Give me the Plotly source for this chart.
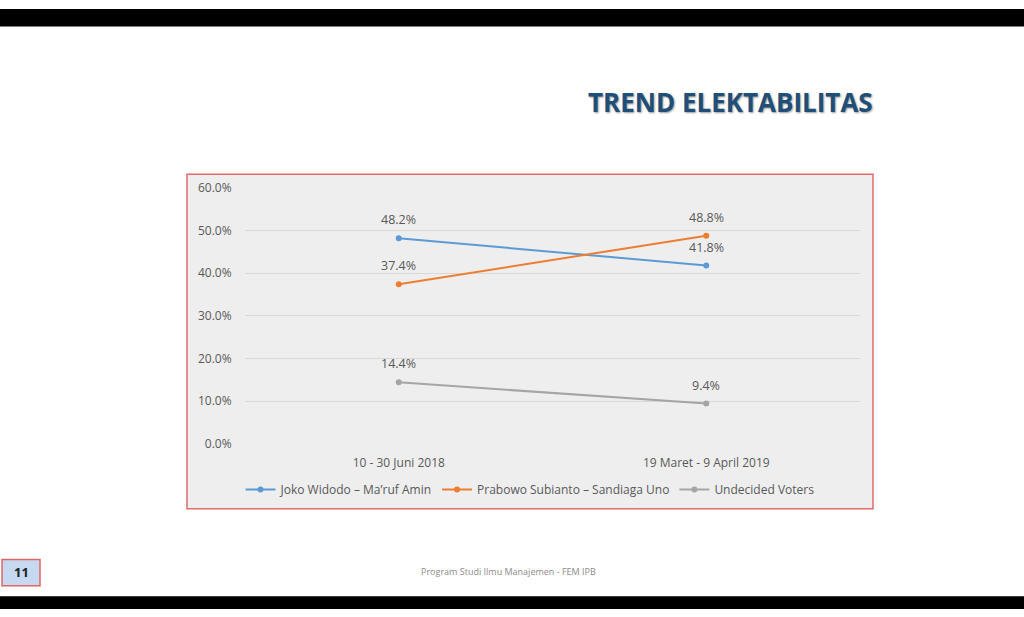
import plotly.graph_objects as go

W, H = 1024, 617

categories = ["10 - 30 Juni 2018", "19 Maret - 9 April 2019"]
jokowi = [0.482, 0.418]
prabowo = [0.374, 0.488]
undecided = [0.144, 0.094]
series_names = ["Joko Widodo – Ma’ruf Amin", "Prabowo Subianto – Sandiaga Uno", "Undecided Voters"]
y_ticks = [0, 0.1, 0.2, 0.3, 0.4, 0.5, 0.6]

colors = ["#5b9bd5", "#ed7d31", "#a5a5a5"]
label_font = dict(family="Open Sans", size=12, color="#595959")

def px(x):
    return x / W

def py(y):
    return 1 - y / H

fig = go.Figure()
annotations = []
for name, vals, col in zip(series_names, [jokowi, prabowo, undecided], colors):
    fig.add_trace(go.Scatter(
        x=categories, y=vals, name=name, mode="lines+markers",
        line=dict(color=col, width=2), marker=dict(color=col, size=6),
        cliponaxis=False,
    ))
    for c, v in zip(categories, vals):
        annotations.append(dict(
            x=c, y=v, xref="x", yref="y", text=f"{v*100:.1f}%", showarrow=False,
            yanchor="bottom", yshift=8, font=dict(family="Open Sans", size=12.5, color="#595959"),
        ))

shapes = [
    dict(type="rect", xref="paper", yref="paper", x0=0, x1=1, y0=py(0), y1=py(18),
         fillcolor="#000000", line=dict(width=0), layer="below"),
    dict(type="rect", xref="paper", yref="paper", x0=0, x1=1, y0=py(604), y1=0,
         fillcolor="#000000", line=dict(width=0), layer="below"),
    dict(type="rect", xref="paper", yref="paper", x0=px(187), x1=px(873), y0=py(514), y1=py(170),
         fillcolor="#eeeeee", line=dict(color="#e46a6c", width=1.5), layer="below"),
    dict(type="rect", xref="paper", yref="paper", x0=px(2), x1=px(40), y0=py(593), y1=py(566),
         fillcolor="#c6d9f1", line=dict(color="#e06666", width=1.5), layer="below"),
]

annotations += [
    dict(text="<b>TREND ELEKTABILITAS</b>", xref="paper", yref="paper", x=px(730), y=py(96),
         xanchor="center", yanchor="middle", showarrow=False,
         font=dict(family="Open Sans", size=26, color="#1f4e79", shadow="1px 1px 2px #9a9a9a")),
    dict(text="<b>11</b>", xref="paper", yref="paper", x=px(21), y=py(579),
         xanchor="center", yanchor="middle", showarrow=False,
         font=dict(family="Open Sans", size=13, color="#222222")),
    dict(text="Program Studi Ilmu Manajemen - FEM IPB", xref="paper", yref="paper", x=px(508), y=py(578),
         xanchor="center", yanchor="middle", showarrow=False,
         font=dict(family="Open Sans", size=9, color="#8c8c8c")),
]

fig.update_layout(
    width=W, height=H,
    margin=dict(l=0, r=0, t=0, b=0),
    paper_bgcolor="#ffffff", plot_bgcolor="rgba(0,0,0,0)",
    shapes=shapes, annotations=annotations,
    showlegend=True,
    legend=dict(orientation="h", x=px(530), y=py(494), xanchor="center", yanchor="middle",
                font=dict(family="Open Sans", size=12, color="#595959"), bgcolor="rgba(0,0,0,0)",
                itemwidth=30, tracegroupgap=0),
    xaxis=dict(domain=[px(245), px(860)], range=[-0.5, 1.5], showgrid=False, zeroline=False,
               showline=False, tickfont=label_font, ticks="outside", ticklen=8,
               tickcolor="rgba(0,0,0,0)", type="category"),
    yaxis=dict(domain=[py(447), py(184)], range=[0, 0.6], tickvals=y_ticks, tickformat=".1%",
               showgrid=True, gridcolor="#d9d9d9", gridwidth=1, zeroline=False, showline=False,
               tickfont=label_font, ticks="outside", ticklen=10, tickcolor="rgba(0,0,0,0)"),
    font=dict(family="Open Sans"),
)

post = (
    "document.documentElement.style.margin='0';document.documentElement.style.padding='0';"
    "document.documentElement.style.overflow='hidden';"
    "document.body.style.margin='0';document.body.style.padding='0';document.body.style.overflow='hidden';"
    "var g=document.getElementsByClassName('plotly-graph-div')[0];"
    "g.style.position='fixed';g.style.top='0';g.style.left='0';"
)

fig.write_html("out.html", config=dict(displayModeBar=False), post_script=post)
